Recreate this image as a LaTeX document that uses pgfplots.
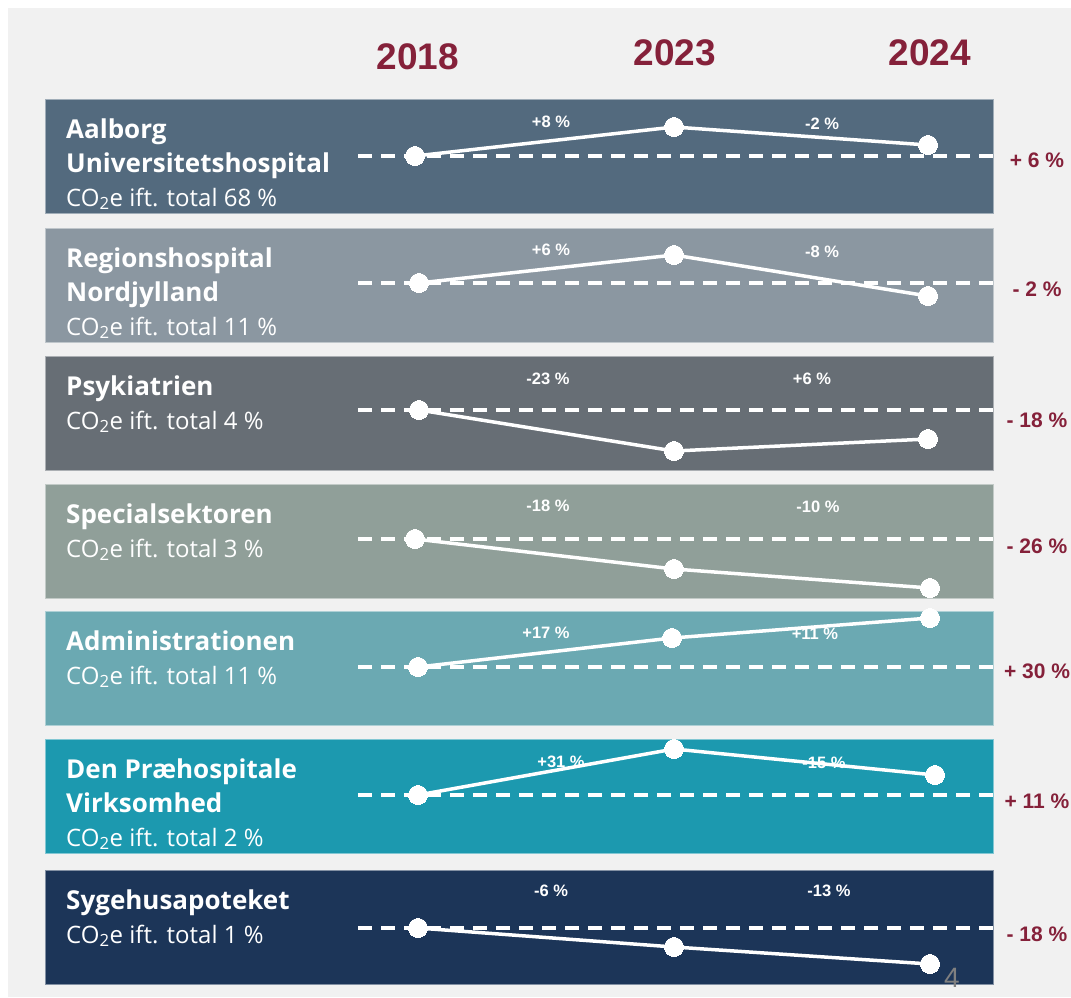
\documentclass[border=0pt]{standalone}
\usepackage{pgfplots}
\pgfplotsset{compat=1.18}
\usepackage{fontspec}
\setmainfont{Liberation Sans}
\newfontfamily\labfont{Open Sans}
\definecolor{bgray}{HTML}{F1F1F1}
\definecolor{bandA}{HTML}{536A7E}
\definecolor{bandB}{HTML}{8B97A1}
\definecolor{bandC}{HTML}{676E75}
\definecolor{bandD}{HTML}{909F99}
\definecolor{bandE}{HTML}{6BA9B2}
\definecolor{bandF}{HTML}{1C99AF}
\definecolor{bandG}{HTML}{1C3558}
\definecolor{wine}{HTML}{85213A}

% band: top y, colour
\newcommand{\band}[2]{%
  \fill[#2, draw=#2!55!white, line width=0.8pt] (axis cs:45,#1) rectangle (axis cs:993,#1+114);}
\newcommand{\ttl}[2]{\node[anchor=base west, white, inner sep=0pt, font=\labfont\fontsize{26}{28}\selectfont\bfseries] at (axis cs:66,#1) {#2};}
\newcommand{\sub}[2]{\node[anchor=base west, white, inner sep=0pt, font=\labfont\fontsize{24}{26}\selectfont] at (axis cs:66,#1) {CO\textsubscript{2}e ift. total #2};}
\newcommand{\seg}[3]{\node[white, font=\fontsize{16.5}{18}\selectfont\bfseries] at (axis cs:#1,#2) {#3};}
\newcommand{\tot}[2]{\node[wine, inner sep=0pt, font=\fontsize{21}{24}\selectfont\bfseries] at (axis cs:1037,#1) {#2};}

\begin{document}
\begin{tikzpicture}
\begin{axis}[
    x=1pt, y=1pt, y dir=reverse,
    xmin=0, xmax=1071, ymin=0, ymax=997,
    hide axis, clip=false, scale only axis,
    every axis plot/.append style={white, line width=3.5pt},
    line/.style={mark=*, mark size=9.5pt, mark options={fill=white, draw=white, line width=0pt}},
    base/.style={line width=3.5pt, dash pattern=on 14pt off 9pt},
]
\fill[white] (axis cs:0,0) rectangle (axis cs:1071,997);
\fill[bgray] (axis cs:8,8) rectangle (axis cs:1071,997);

% year headings
\node[wine, font=\fontsize{37}{40}\selectfont\bfseries] at (axis cs:418,57) {2018};
\node[wine, font=\fontsize{37}{40}\selectfont\bfseries] at (axis cs:675,53) {2023};
\node[wine, font=\fontsize{37}{40}\selectfont\bfseries] at (axis cs:930,53) {2024};

% bands
\band{99}{bandA}
\band{228}{bandB}
\band{356}{bandC}
\band{484}{bandD}
\band{611}{bandE}
\band{739}{bandF}
\band{870}{bandG}

% Aalborg Universitetshospital
\addplot[base] coordinates {(358,156) (993,156)};
\addplot[line] coordinates {(415,156) (674,127) (928,145)};
\ttl{138}{Aalborg}
\ttl{172}{Universitetshospital}
\sub{206}{68 \%}
\seg{551}{122}{+8 \%}
\seg{822}{124}{-2 \%}
\tot{160}{+ 6 \%}

% Regionshospital Nordjylland
\addplot[base] coordinates {(358,283) (993,283)};
\addplot[line] coordinates {(419,283) (674,255) (928,296)};
\ttl{267}{Regionshospital}
\ttl{301}{Nordjylland}
\sub{335}{11 \%}
\seg{551}{250}{+6 \%}
\seg{822}{252}{-8 \%}
\tot{289}{- 2 \%}

% Psykiatrien
\addplot[base] coordinates {(358,410) (993,410)};
\addplot[line] coordinates {(419,410) (674,451) (928,439)};
\ttl{395}{Psykiatrien}
\sub{429}{4 \%}
\seg{548}{379}{-23 \%}
\seg{812}{379}{+6 \%}
\tot{420}{- 18 \%}

% Specialsektoren
\addplot[base] coordinates {(358,539) (993,539)};
\addplot[line] coordinates {(415,539) (674,569) (930,588)};
\ttl{523}{Specialsektoren}
\sub{557}{3 \%}
\seg{548}{506}{-18 \%}
\seg{818}{507}{-10 \%}
\tot{546}{- 26 \%}

% Administrationen
\addplot[base] coordinates {(358,667) (993,667)};
\addplot[line] coordinates {(418,667) (672,638) (930,618)};
\ttl{650}{Administrationen}
\sub{684}{11 \%}
\seg{546}{633}{+17 \%}
\seg{815}{634}{+11 \%}
\tot{671}{+ 30 \%}

% Den Praehospitale Virksomhed
\addplot[base] coordinates {(358,795) (993,795)};
\seg{561}{762}{+31 \%}
\seg{824}{763}{-15 \%}
\addplot[line] coordinates {(418,795) (674,749) (935,775)};
\ttl{778}{Den Præhospitale}
\ttl{812}{Virksomhed}
\sub{846}{2 \%}
\tot{801}{+ 11 \%}

% Sygehusapoteket
\addplot[base] coordinates {(358,928) (993,928)};
\addplot[line] coordinates {(418,928) (674,947) (930,964)};
\ttl{909}{Sygehusapoteket}
\sub{943}{1 \%}
\seg{551}{891}{-6 \%}
\seg{829}{891}{-13 \%}
\tot{934}{- 18 \%}

\node[gray, font=\fontsize{28}{30}\selectfont] at (axis cs:952,978) {4};
\end{axis}
\pgfresetboundingbox
\path[use as bounding box] (0,0) rectangle (1071pt,997pt);
\end{tikzpicture}
\end{document}
